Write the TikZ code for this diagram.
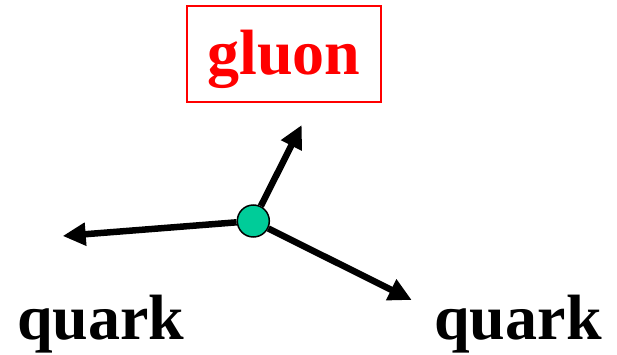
\documentclass[tikz,border=0pt]{standalone}
\usepackage{fontspec}
\setmainfont{Liberation Serif}
\usepackage{xcolor}
\usetikzlibrary{arrows.meta}
\definecolor{vertexgreen}{HTML}{00CC99}

\begin{document}
\begin{tikzpicture}[x=1pt,y=-1pt,
  every node/.style={font=\fontsize{64}{72}\selectfont\bfseries},
  particle/.style={line width=6.5pt,-{Triangle[length=23pt,width=22pt]}},
  vertex/.style={circle,draw=black,line width=1.5pt,fill=vertexgreen,minimum size=32pt,inner sep=0pt}]
\useasboundingbox (0,0) rectangle (617,355);
\node[draw=red,line width=1.5pt,text=red,minimum width=194pt,minimum height=96pt,text height=56pt,text depth=14pt] (glu) at (284,54) {gluon};
\node[anchor=base] (q1) at (101,339) {quark};
\node[anchor=base] (q2) at (518,339) {quark};
\coordinate (gtip) at (301.7,125);
\coordinate (q1tip) at (62.7,236);
\coordinate (q2tip) at (411.7,300);
\node[vertex] (v) at (253.3,221) {};
\draw[particle] (v) -- (gtip);
\draw[particle] (v) -- (q1tip);
\draw[particle] (v) -- (q2tip);
\end{tikzpicture}
\end{document}
